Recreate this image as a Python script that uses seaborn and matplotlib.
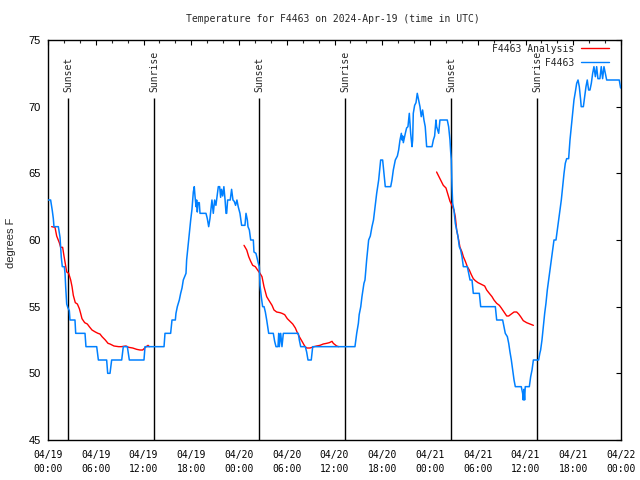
import pandas as pd
import seaborn as sns
import matplotlib
matplotlib.use('Agg')
import matplotlib.pyplot as plt
import matplotlib.dates as mdates
from matplotlib.lines import Line2D

start = pd.Timestamp('2024-04-19 00:00')

# observed temperature for F4463 (hours after start, deg F)
obs_hours = [0.0, 0.33, 0.54, 0.67, 0.75, 1.30, 1.51, 1.59, 1.67, 1.80, 2.05, 2.14, 2.22, 2.35, 2.51,
             2.68, 2.76, 3.39, 3.48, 4.65, 4.77, 6.12, 6.33, 7.37, 7.50, 7.79, 8.00, 9.26, 9.46, 9.97,
             10.22, 12.06, 12.19, 14.58, 14.70, 15.41, 15.58, 16.0, 16.08, 16.25, 16.5, 16.67, 16.84,
             17.0, 17.34, 17.42, 17.59, 17.76, 17.93, 18.09, 18.18, 18.26, 18.38, 18.47, 18.6, 18.68,
             18.76, 18.85, 19.01, 19.1, 19.85, 20.02, 20.19, 20.35, 20.6, 20.77, 20.94, 21.1, 21.4,
             21.57, 21.69, 21.8, 21.95, 22.1, 22.25, 22.37, 22.45, 22.57, 22.9, 23.07, 23.24, 23.4,
             23.57, 23.74, 23.9, 24.12, 24.33, 24.75, 24.88, 25.05, 25.13, 25.3, 25.47, 25.8, 25.88,
             26.13, 26.25, 26.43, 26.55, 26.64, 26.8, 26.97, 27.15, 27.31, 27.48, 27.73, 28.31, 28.48,
             28.65, 28.9, 28.99, 29.07, 29.24, 29.4, 29.57, 31.45, 31.58, 31.75, 32.33, 32.5, 32.67,
             33.08, 33.26, 36.69, 38.57, 38.79, 39.0, 39.1, 39.3, 39.45, 39.7, 39.83, 40.04, 40.29,
             40.5, 40.71, 40.9, 41.05, 41.3, 41.55, 41.72, 41.8, 42.05, 42.22, 42.38, 43.06, 43.22,
             43.39, 43.64, 43.9, 44.06, 44.23, 44.4, 44.48, 44.57, 44.65, 44.9, 45.06, 45.23, 45.4,
             45.57, 45.74, 45.82, 45.9, 46.07, 46.24, 46.4, 46.57, 46.74, 46.9, 47.07, 47.24, 47.4,
             47.58, 48.25, 48.42, 48.58, 48.75, 48.83, 49.09, 49.25, 50.17, 50.34, 50.51, 50.6, 50.68,
             50.76, 50.85, 51.01, 51.18, 51.35, 51.52, 51.68, 51.85, 52.02, 52.19, 52.69, 52.86, 53.03,
             53.28, 53.44, 54.2, 54.37, 56.21, 56.38, 57.13, 57.3, 57.46, 57.72, 57.89, 58.05, 58.22,
             58.39, 58.56, 58.72, 59.47, 59.64, 59.72, 59.8, 59.89, 59.97, 60.23, 60.48, 60.65, 60.82,
             60.99, 61.65, 61.8, 61.9, 62.07, 62.24, 62.41, 62.57, 62.74, 62.91, 63.08, 63.24, 63.41,
             63.58, 63.83, 64.0, 64.17, 64.33, 64.5, 64.67, 64.84, 65.0, 65.17, 65.42, 65.59, 65.76,
             65.92, 66.09, 66.26, 66.43, 66.6, 66.76, 66.93, 67.0, 67.27, 67.43, 67.6, 67.76, 67.93,
             68.1, 68.27, 68.44, 68.6, 68.78, 68.94, 69.1, 69.35, 69.52, 69.69, 69.86, 70.03, 70.2,
             71.78, 71.95]
obs_temps = [63, 63, 62.2, 61.6, 61, 61, 60.2, 59.5, 58.7, 58, 58, 57.5, 56.5, 55.2, 54.9,
             54.7, 54, 54, 53, 53, 52, 52, 51, 51, 50, 50, 51, 51, 52, 52,
             51, 51, 52, 52, 53, 53, 54, 54, 54.5, 55, 55.5, 56, 56.4,
             57, 57.5, 58.5, 59.5, 60.5, 61.5, 62.3, 63, 63.6, 64, 63.3, 62.5, 63,
             62.1, 62.8, 62.8, 62, 62, 61.6, 61, 61.6, 63, 62, 63, 62.6, 64,
             64, 63.2, 63.8, 63.3, 64, 63, 62, 62, 63, 63, 63.8, 63, 62.9,
             62.6, 63, 62.5, 62, 61.1, 61.1, 62, 61.5, 61, 60.75, 60, 60, 59.1,
             59, 58.7, 58.25, 58, 56.6, 55.75, 55, 55, 54.6, 54, 53, 53, 52.4,
             52, 52, 53, 52, 53, 52, 53, 53, 52.5, 52, 52, 51.6, 51,
             51, 52, 52, 52, 53, 53.75, 54.4, 55, 55.75, 56.75, 57, 58.5, 60,
             60.3, 61, 61.5, 62.25, 63.5, 64.5, 65.5, 66, 66, 65, 64, 64, 64.5,
             65.25, 66, 66.3, 66.75, 67.5, 68, 67.5, 67.8, 67.3, 68, 68.4, 68.5, 69.5,
             68, 67, 67.5, 69.5, 70.1, 70.3, 71, 70.5, 70, 69.25, 69.75, 69, 68.5,
             67, 67, 67.5, 67.8, 69, 68.5, 68, 69, 69, 68.5, 67.5, 66.6, 66,
             64.1, 62.75, 62.25, 61.25, 60.75, 60.25, 59.5, 59.25, 58.75, 58, 58, 57.5, 57,
             57, 56, 56, 55, 55, 54, 54, 53.5, 53, 52.75, 52.25, 51.6, 51,
             50.25, 49.5, 49, 49, 48.5, 48, 48.8, 48, 49, 49, 49, 49.75, 50.25,
             51, 51, 51.5, 51.75, 52.5, 53.5, 54.5, 55.25, 56.25, 57, 57.75, 58.5, 59.25,
             60, 60, 60.75, 61.5, 62.25, 63, 64, 65, 65.75, 66.1, 66.1, 67.5, 68.5,
             69.5, 70.5, 71.1, 71.75, 72, 71.5, 70.5, 70, 70, 70.75, 71.5, 72, 71.25,
             71.25, 71.75, 72.5, 73, 72.25, 73, 72.1, 72.1, 73, 72.1, 73, 72.5, 72,
             72, 71.4]

# analysis runs, one per night
ana1_hours = [0.46, 0.88, 1.09, 1.42, 1.59, 1.84, 2.01, 2.18, 2.35, 2.6, 2.85, 3.02, 3.18, 3.43,
              3.69, 3.94, 4.1, 4.27, 4.61, 4.94, 5.19, 5.53, 5.95, 6.28, 6.53, 6.79, 7.2, 7.54,
              7.79, 8.29, 8.88, 9.21, 9.8, 10.14, 10.64, 11.14, 11.56, 11.9, 12.23, 12.57, 12.73]
ana1_temps = [61, 60.95, 60.3, 59.8, 59.45, 59.45, 58.8, 58.2, 57.6, 57.5, 57, 56.5, 55.85, 55.3,
              55.2, 54.85, 54.5, 54.1, 53.8, 53.7, 53.5, 53.25, 53.1, 53, 52.95, 52.75, 52.5, 52.25,
              52.2, 52.05, 52, 52, 52.05, 51.95, 51.9, 51.8, 51.75, 51.75, 51.95, 52.1, 52.0]
ana2_hours = [24.63, 24.97, 25.22, 25.47, 25.72, 26.05, 26.39, 26.64, 26.89, 27.14, 27.48, 27.73,
              28.15, 28.4, 28.73, 29.15, 29.4, 29.74, 30.07, 30.41, 30.75, 31.08, 31.33, 31.58,
              31.92, 32.25, 32.5, 32.92, 33.42, 33.76, 34.18, 34.59, 35.01, 35.35, 35.69, 35.85,
              36.27, 36.53]
ana2_temps = [59.6, 59.25, 58.75, 58.4, 58.1, 58, 57.7, 57.5, 57.25, 56.5, 55.75, 55.5,
              55.1, 54.75, 54.6, 54.55, 54.5, 54.4, 54.1, 53.9, 53.7, 53.4, 53.05, 52.75,
              52.4, 52.05, 51.9, 51.9, 52, 52.05, 52.1, 52.2, 52.25, 52.3, 52.4, 52.25,
              52.05, 52]
ana3_hours = [48.83, 49.25, 49.67, 50.01, 50.26, 50.51, 50.76, 51.01, 51.18, 51.35, 51.6, 51.77,
              52.02, 52.19, 52.44, 52.69, 52.94, 53.19, 53.44, 53.69, 54.03, 54.37, 54.87, 55.12,
              55.45, 55.79, 56.04, 56.38, 56.71, 56.96, 57.3, 57.64, 57.89, 58.22, 58.56, 58.89,
              59.14, 59.39, 59.72, 60.14, 60.56, 60.99]
ana3_temps = [65.1, 64.6, 64.1, 63.9, 63.4, 62.9, 62.6, 62.25, 61.75, 60.75, 60, 59.45,
              59.1, 58.75, 58.4, 58, 57.75, 57.4, 57.1, 56.95, 56.8, 56.7, 56.55, 56.25,
              56, 55.75, 55.5, 55.25, 55.1, 54.9, 54.6, 54.3, 54.3, 54.45, 54.6, 54.6,
              54.45, 54.25, 53.95, 53.8, 53.7, 53.6]

sunset_hours = [2.55, 26.55, 50.68]
sunrise_hours = [13.36, 37.36, 61.49]

obs = pd.DataFrame({'time': start + pd.to_timedelta(obs_hours, unit='h'), 'temp': obs_temps})
ana = pd.concat([
    pd.DataFrame({'time': start + pd.to_timedelta(h, unit='h'), 'temp': t, 'run': i})
    for i, (h, t) in enumerate([(ana1_hours, ana1_temps), (ana2_hours, ana2_temps), (ana3_hours, ana3_temps)])
], ignore_index=True)

sns.set_style('white')
plt.rcParams['font.family'] = ['DejaVu Sans Mono']
mono = 'DejaVu Sans Mono'
sans = 'Liberation Sans'
blue = '#0080ff'

fig, ax = plt.subplots(figsize=(6.4, 4.8), dpi=100)
fig.subplots_adjust(left=48/640, right=621/640, bottom=40/480, top=440/480)

# sunset / sunrise markers
for hrs, name in [(sunset_hours, 'Sunset'), (sunrise_hours, 'Sunrise')]:
    for h in hrs:
        t = start + pd.Timedelta(hours=h)
        ax.vlines(t, 45, 70.65, color='black', lw=1.0, zorder=3)
        ax.text(t, 71.1, name, rotation=90, ha='center', va='bottom', fontsize=7, family=mono)

sns.lineplot(data=ana, x='time', y='temp', units='run', estimator=None, sort=False,
             color='red', lw=1.0, ax=ax, zorder=4)
sns.lineplot(data=obs, x='time', y='temp', estimator=None, sort=False,
             color=blue, lw=1.1, ax=ax, zorder=5)

ax.set_xlim(start, start + pd.Timedelta(hours=72))
ax.set_ylim(45, 75)
ax.set_yticks([45, 50, 55, 60, 65, 70, 75])
ax.xaxis.set_major_locator(mdates.HourLocator(byhour=[0, 6, 12, 18]))
ax.xaxis.set_minor_locator(mdates.HourLocator(byhour=range(0, 24, 2)))
ax.xaxis.set_major_formatter(mdates.DateFormatter('%m/%d\n%H:%M'))
ax.tick_params(axis='both', which='major', direction='in', length=3.5, width=0.8,
               top=True, right=True, colors='black', labelsize=7)
ax.tick_params(axis='x', which='minor', direction='in', length=2.2, width=0.8, top=True)
ax.tick_params(axis='x', pad=7)
ax.tick_params(axis='y', pad=5, labelsize=8)
for lbl in ax.get_xticklabels():
    lbl.set_family(mono)
    lbl.set_linespacing(1.5)
for lbl in ax.get_yticklabels():
    lbl.set_family(sans)
for s in ax.spines.values():
    s.set_color('black')
    s.set_linewidth(1.0)

ax.set_xlabel('')
ax.set_ylabel('')
fig.text(11/640, 0.495, 'degrees F', rotation=90, ha='center', va='center', fontsize=8, family=sans)
fig.text(333/640, 1 - 19/480, 'Temperature for F4463 on 2024-Apr-19 (time in UTC)',
         ha='center', va='center', fontsize=7, family=mono)

handles = [Line2D([], [], color='red', lw=1.0), Line2D([], [], color=blue, lw=1.0)]
labels = ['F4463 Analysis', 'F4463'.rjust(14)]
ax.legend(handles, labels, loc='upper right', bbox_to_anchor=(0.986, 1.0), frameon=False,
          markerfirst=False, fontsize=7, handlelength=2.9, handletextpad=0.7,
          labelspacing=0.4, borderaxespad=0.15, borderpad=0.25, prop={'family': mono, 'size': 7})

fig.savefig('out.png', dpi=100, facecolor='white')
